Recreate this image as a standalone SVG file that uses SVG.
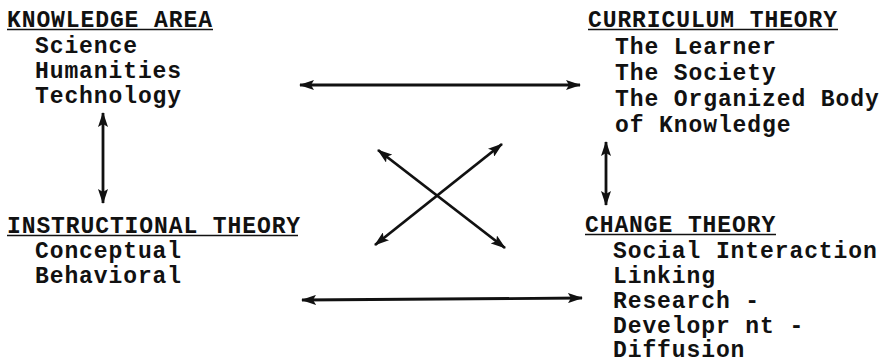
<svg xmlns="http://www.w3.org/2000/svg" width="890" height="364" viewBox="0 0 890 364">
<style>
text{font-family:"Liberation Mono","Courier New",monospace;font-weight:bold;font-size:23px;letter-spacing:0.9px;fill:#111}
.ul{stroke:#111;stroke-width:1.6}
.c{stroke:#111;stroke-width:2.8;fill:none;marker-start:url(#ah);marker-end:url(#ah)}
</style>
<defs>
<marker id="ah" viewBox="0 0 15 10" refX="14" refY="5" markerWidth="15" markerHeight="10" markerUnits="userSpaceOnUse" orient="auto-start-reverse">
<path d="M0,0 L15,5 L0,10 L3,5 Z" fill="#111"/>
</marker>
</defs>
<rect width="890" height="364" fill="#fff"/>
<g id="knowledge-area">
<text x="7" y="27">KNOWLEDGE AREA</text>
<line class="ul" x1="7" y1="29.5" x2="213" y2="29.5"/>
<text x="35" y="53">Science</text>
<text x="35" y="78">Humanities</text>
<text x="35" y="103">Technology</text>
</g>
<g id="curriculum-theory">
<text x="588" y="27">CURRICULUM THEORY</text>
<line class="ul" x1="588" y1="29.5" x2="838" y2="29.5"/>
<text x="615" y="54">The Learner</text>
<text x="615" y="80">The Society</text>
<text x="615" y="106">The Organized Body</text>
<text x="615" y="132">of Knowledge</text>
</g>
<g id="instructional-theory">
<text x="7" y="233">INSTRUCTIONAL THEORY</text>
<line class="ul" x1="7" y1="235.5" x2="298" y2="235.5"/>
<text x="35" y="258">Conceptual</text>
<text x="35" y="283">Behavioral</text>
</g>
<g id="change-theory">
<text x="585" y="232">CHANGE THEORY</text>
<line class="ul" x1="585" y1="234.5" x2="776" y2="234.5"/>
<text x="613" y="258">Social Interaction</text>
<text x="613" y="283">Linking</text>
<text x="613" y="308">Research -</text>
<text x="613" y="333">Developr nt -</text>
<text x="613" y="357">Diffusion</text>
</g>
<g id="connectors">
<line class="c" x1="300" y1="85" x2="580" y2="85"/>
<line class="c" x1="302" y1="300" x2="582" y2="298"/>
<line class="c" x1="103" y1="113" x2="103" y2="203"/>
<line class="c" x1="606" y1="142" x2="606" y2="205"/>
<line class="c" x1="378" y1="150" x2="505" y2="248"/>
<line class="c" x1="502" y1="144" x2="375" y2="245"/>
</g>
</svg>
